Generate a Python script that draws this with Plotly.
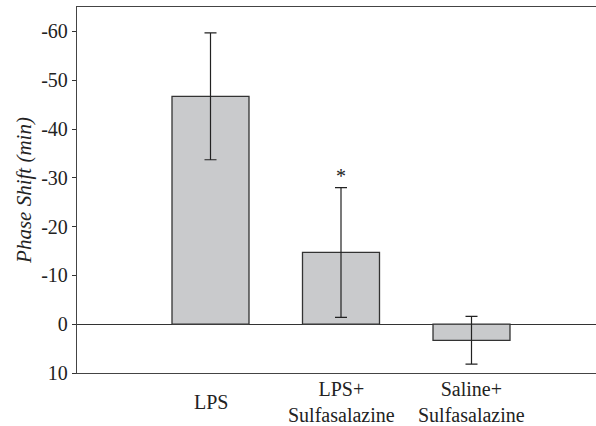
import plotly.graph_objects as go

categories = ["LPS", "LPS+<br>Sulfasalazine", "Saline+<br>Sulfasalazine"]
phase_shift = [-46.7, -14.7, 3.3]
sem = [13.0, 13.3, 4.9]
significance = ["", "*", ""]
y_ticks = [-60, -50, -40, -30, -20, -10, 0, 10]
y_tick_text = ["-60", "-50", "-40", "-30", "-20", "-10", "0", "10"]

xpos = list(range(len(categories)))
serif = "Liberation Serif, Times New Roman, serif"

fig = go.Figure()
fig.add_trace(go.Bar(
    x=xpos, y=phase_shift, width=0.59,
    marker=dict(color="#c9cacc", line=dict(color="#333333", width=1.3)),
    error_y=dict(type="data", array=sem, visible=True, color="#222222",
                 thickness=1.2, width=6),
    showlegend=False, hoverinfo="skip",
))

annotations = []
for i, s in enumerate(significance):
    if s:
        annotations.append(dict(x=xpos[i], y=phase_shift[i] - sem[i] - 2.3,
                                text=s, showarrow=False,
                                font=dict(family=serif, size=20, color="#222")))
for i, c in enumerate(categories):
    annotations.append(dict(x=xpos[i], xref="x", y=-0.08, yref="paper",
                            yanchor="middle", text=c, showarrow=False,
                            font=dict(family=serif, size=20, color="#222")))

fig.update_layout(
    width=596, height=426,
    margin=dict(l=77, r=0, t=7, b=53, autoexpand=False),
    paper_bgcolor="white", plot_bgcolor="white",
    annotations=annotations,
    xaxis=dict(range=[-1.023, 2.954], showticklabels=False, ticks="",
               showline=True, linecolor="#444444", linewidth=1.3,
               mirror=True, showgrid=False, zeroline=False, automargin=False),
    yaxis=dict(range=[10, -65], tickvals=y_ticks, ticktext=y_tick_text,
               ticks="outside", ticklen=4, tickcolor="#333",
               showline=True, linecolor="#444444", linewidth=1.3,
               showgrid=False, zeroline=True, zerolinecolor="#333333",
               zerolinewidth=1.2, automargin=False,
               tickfont=dict(family=serif, size=20, color="#222"),
               title=dict(text="<i>Phase Shift (min)</i>", standoff=3,
                          font=dict(family=serif, size=21, color="#222"))),
)

fig.write_html("out.html", config={"displayModeBar": False},
               post_script="document.body.style.margin='0';document.body.style.overflow='hidden';")
